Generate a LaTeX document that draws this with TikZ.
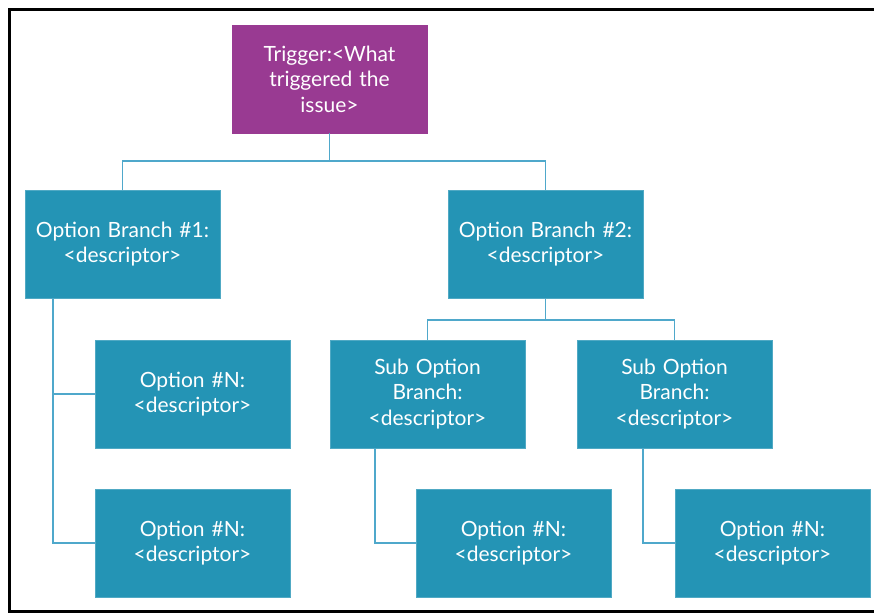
\documentclass[tikz,border=0pt]{standalone}
\usepackage{fontspec}
\setmainfont{Lato}
\usetikzlibrary{positioning}
\newcommand{\unitsize}{1pt}
\definecolor{trigpurple}{HTML}{993A92}
\definecolor{boxteal}{HTML}{2494B5}
\definecolor{linkblue}{HTML}{4FA8CB}
\begin{document}
\begin{tikzpicture}[x=\unitsize,y=-\unitsize]
\useasboundingbox (0,0) rectangle (874,614);
\draw[line width=3*\unitsize] (874,9.5) -- (9.5,9.5) -- (9.5,611) -- (874,611);
\tikzstyle{tree box}=[rectangle,
                      fill=boxteal,
                      draw=boxteal!80!white,
                      minimum width  = 195*\unitsize,
                      minimum height = 108*\unitsize,
                      text width     = 190*\unitsize,
                      align=center,
                      inner sep=0pt,
                      text=white,
                      font=\fontsize{21}{25.5}\selectfont
                      ]
\tikzstyle{link}=[linkblue, line width=1.5*\unitsize]
% top of the tree
\node[tree box, fill=trigpurple, draw=trigpurple] (trig) at (329.5,79) {Trigger:<What triggered the\\ issue>};
\node[tree box] (br1) at (122.5,244) {Option Branch \#1:\\ <descriptor>};
\node[tree box] (br2) at (545.5,244) {Option Branch \#2:\\ <descriptor>};
% left branch
\node[tree box] (optA) at (192.5,394) {Option \#N:\\ <descriptor>};
\node[tree box] (optB) at (192.5,543) {Option \#N:\\ <descriptor>};
% right branch
\node[tree box] (subA) at (427.5,394) {Sub Option\\ Branch:\\ <descriptor>};
\node[tree box] (subB) at (674.5,394) {Sub Option\\ Branch:\\ <descriptor>};
\node[tree box] (optC) at (513.5,543) {Option \#N:\\ <descriptor>};
\node[tree box] (optD) at (772.5,543) {Option \#N:\\ <descriptor>};
% connectors
\draw[link] (trig.south) -- ++(0,28) -| (br1.north);
\draw[link] (trig.south) -- ++(0,28) -| (br2.north);
\draw[link] ([xshift=28*\unitsize]br1.south west) |- (optA.west);
\draw[link] ([xshift=28*\unitsize]br1.south west) |- (optB.west);
\draw[link] (br2.south) -- ++(0,22) -| (subA.north);
\draw[link] (br2.south) -- ++(0,22) -| (subB.north);
\draw[link] ([xshift=45*\unitsize]subA.south west) |- (optC.west);
\draw[link] ([xshift=66*\unitsize]subB.south west) |- (optD.west);
\end{tikzpicture}
\end{document}
